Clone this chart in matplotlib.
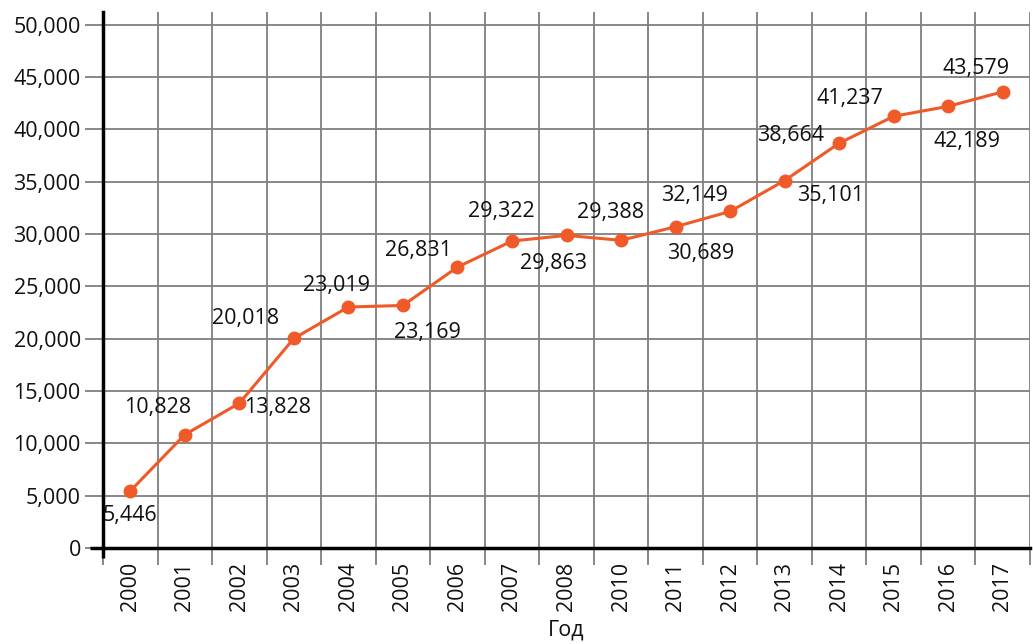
import matplotlib.pyplot as plt
from matplotlib.ticker import FuncFormatter, MultipleLocator

plt.rcParams['font.family'] = ['Open Sans', 'DejaVu Sans']

# data
years = ['2000', '2001', '2002', '2003', '2004', '2005', '2006', '2007', '2008',
         '2010', '2011', '2012', '2013', '2014', '2015', '2016', '2017']
values = [5446, 10828, 13828, 20018, 23019, 23169, 26831, 29322, 29863,
          29388, 30689, 32149, 35101, 38664, 41237, 42189, 43579]

# label offsets from each point, in pixels (dx, dy with dy up)
label_offsets = [(0, -25), (-27, 27), (38, -4), (-48, 20), (-12, 22), (25, -27),
                 (-39, 17), (-11, 30), (-13, -28), (-10, 28), (25, -27), (-36, 16),
                 (46, -15), (-49, 8), (-44, 18), (19, -35), (-27, 23)]

line_color = '#F05A28'
grid_color = '#7f7f7f'
fs = 15.5

fig = plt.figure(figsize=(10.33, 6.44), dpi=100)
ax = fig.add_axes([103 / 1033, 1 - 548 / 644, 927 / 1033, 536 / 644])

x = list(range(len(years)))
ax.set_xlim(-0.5, len(years) - 0.5)
ax.set_ylim(0, 51200)

# grid: vertical lines between categories, horizontal at y ticks
ax.set_xticks(x)
ax.set_xticklabels(years, rotation=90, fontsize=fs)
ax.set_xticks([i - 0.5 for i in range(len(years) + 1)], minor=True)
ax.tick_params(axis='x', which='major', length=0, pad=10)
ax.tick_params(axis='x', which='minor', length=12, width=1.3, color=grid_color)
ax.yaxis.set_major_locator(MultipleLocator(5000))
ax.yaxis.set_major_formatter(FuncFormatter(lambda v, p: f'{int(v):,}'))
ax.tick_params(axis='y', length=13, width=1.3, color=grid_color, labelsize=fs,
               labelcolor='#111111', pad=3)
ax.tick_params(axis='x', labelcolor='#111111')
ax.grid(True, which='minor', axis='x', color=grid_color, linewidth=1.3)
ax.grid(True, which='major', axis='y', color=grid_color, linewidth=1.3)
ax.set_axisbelow(True)

for side in ['top', 'right']:
    ax.spines[side].set_visible(False)
ax.spines['left'].set_linewidth(2.5)
ax.spines['bottom'].set_linewidth(2.5)
# black axis lines reaching past the corner
ax.plot([-0.014, 0], [0, 0], transform=ax.transAxes, color='black',
        linewidth=2.5, clip_on=False, solid_capstyle='butt')
ax.plot([0, 0], [-0.019, 0], transform=ax.transAxes, color='black',
        linewidth=2.5, clip_on=False, solid_capstyle='butt')

ax.plot(x, values, color=line_color, linewidth=2.2, marker='o', markersize=9,
        zorder=3, clip_on=False)

for xi, v, (dx, dy) in zip(x, values, label_offsets):
    ax.annotate(f'{v:,}', (xi, v), xytext=(dx, dy), textcoords='offset pixels',
                ha='center', va='center', fontsize=fs, color='#111111')

ax.set_xlabel('Год', fontsize=fs, labelpad=6, color='#111111')

fig.savefig('out.png', dpi=100)
